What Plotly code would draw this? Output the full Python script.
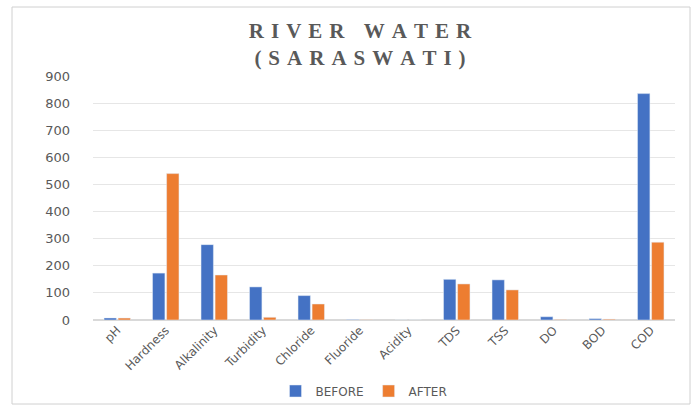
import plotly.graph_objects as go

# Water quality parameters measured for the Saraswati river
parameters = ["pH", "Hardness", "Alkalinity", "Turbidity", "Chloride", "Fluoride",
              "Acidity", "TDS", "TSS", "DO", "BOD", "COD"]
before = [7.5, 173, 278, 122, 90, 1.5, 0, 150, 148, 12, 5, 835]
after = [7.2, 540, 166, 10, 59, 1.2, 0, 133, 111, 2, 3, 287]

BLUE = "#4472C4"
ORANGE = "#ED7D31"
GREY = "#595959"

fig = go.Figure()
fig.add_trace(go.Bar(name="BEFORE", x=parameters, y=before, marker_color=BLUE))
fig.add_trace(go.Bar(name="AFTER", x=parameters, y=after, marker_color=ORANGE))

L, R, T, B = 93, 675, 76, 320
W, H = 696, 409


def px_x(v):
    return (v - L) / (R - L)


def px_y(v):
    return (B - v) / (B - T)


def spaced(s):
    # widen the title with a three-per-em space between letters
    return "\u2004".join(s)


title_text = "<b>" + spaced("RIVER WATER") + "<br>" + spaced("(SARASWATI)") + "</b>"

fig.update_layout(
    width=W, height=H,
    margin=dict(l=L, r=W - R, t=T, b=H - B, autoexpand=False),
    paper_bgcolor="white", plot_bgcolor="white",
    barmode="group", bargap=0.42, bargroupgap=0.12,
    title=dict(
        text=title_text,
        x=(360 - L) / (R - L), xref="paper", xanchor="center",
        y=1 - 38 / H, yanchor="middle",
        font=dict(family="Liberation Serif, Times New Roman, serif", size=21, color=GREY),
    ),
    font=dict(family="DejaVu Sans", color=GREY),
    showlegend=True,
    legend=dict(
        orientation="h", x=px_x(364), xanchor="center",
        y=px_y(391), yanchor="middle", bgcolor="rgba(0,0,0,0)",
        font=dict(size=12, color=GREY, family="DejaVu Sans"), itemwidth=30,
        traceorder="normal",
    ),
    shapes=[dict(
        type="rect", xref="paper", yref="paper",
        x0=px_x(12), x1=px_x(690), y0=px_y(404), y1=px_y(7),
        line=dict(color="#d0d0d0", width=1), fillcolor="rgba(0,0,0,0)", layer="below",
    )],
)

fig.update_yaxes(
    range=[0, 900], dtick=100, showgrid=True, gridcolor="#e6e6e6",
    zeroline=True, zerolinecolor="#d9d9d9", showline=False, automargin=False,
    tickfont=dict(size=13, color=GREY, family="DejaVu Sans"), ticklabelstandoff=22,
)
fig.update_xaxes(
    tickangle=-45, showgrid=False, showline=False, automargin=False,
    tickfont=dict(size=12, color=GREY, family="DejaVu Sans"),
)

fig.write_html("out.html")
